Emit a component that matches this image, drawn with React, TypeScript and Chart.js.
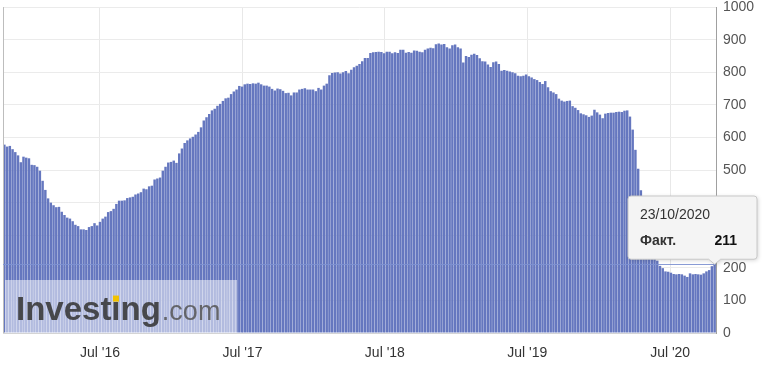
import React, { useEffect, useRef } from 'react';
import { Chart, registerables } from 'chart.js';

Chart.register(...registerables);

// Weekly US oil rig count (Baker Hughes), first week ending 30/10/2015
const startDate = '2015-10-30';
const rigs2015 = [578, 572, 574, 564, 555, 545, 524, 541, 538, 536];
const rigs2016 = [
  516, 515, 510, 498, 467, 439, 413, 400, 392, 386, 387, 372, 362, 354, 351, 343, 332, 328, 318, 318,
  316, 325, 328, 337, 330, 341, 351, 357, 371, 374, 381, 396, 406, 406, 407, 414, 416, 418, 425, 428,
  432, 443, 441, 450, 452, 471, 474, 477, 498, 510, 523, 525,
];
const rigs2017 = [
  529, 522, 551, 566, 583, 591, 597, 602, 609, 617, 631, 652, 662, 672, 683, 688, 697, 703, 712, 720,
  722, 733, 741, 747, 758, 756, 763, 765, 764, 766, 765, 768, 763, 759, 759, 756, 749, 744, 750, 748,
  743, 736, 737, 729, 738, 738, 747, 749, 751, 747, 747, 747,
];
const rigs2018 = [
  742, 752, 747, 759, 765, 791, 798, 799, 800, 796, 800, 804, 797, 808, 815, 820, 825, 834, 844, 844,
  859, 861, 862, 863, 862, 858, 863, 863, 858, 861, 859, 869, 869, 860, 862, 860, 867, 866, 863, 861,
  869, 873, 875, 874, 886, 888, 885, 887, 877, 873, 883, 885,
];
const rigs2019 = [
  877, 873, 830, 850, 847, 854, 857, 853, 843, 834, 833, 824, 816, 831, 833, 825, 805, 807, 805, 802,
  800, 797, 789, 788, 789, 793, 788, 784, 779, 776, 770, 764, 773, 754, 742, 738, 733, 719, 713, 710,
  712, 713, 696, 691, 684, 674, 671, 668, 663, 667, 685, 677,
];
const rigs2020 = [
  670, 659, 673, 675, 676, 676, 678, 679, 678, 682, 683, 664, 624, 562, 504, 438, 378, 325, 292, 258,
  237, 222, 206, 199, 189, 188, 185, 181, 180, 181, 180, 176, 172, 183, 180, 181, 180, 179, 183, 189,
  193, 205, 211,
];

const tickDates = ['2016-07-01', '2017-07-01', '2018-07-01', '2019-07-01', '2020-07-01'];
const tickLabels = ["Jul '16", "Jul '17", "Jul '18", "Jul '19", "Jul '20"];
const yMin = 0;
const yMax = 1000;
const yStep = 100;
const seriesName = 'Факт.';

const values: number[] = [...rigs2015, ...rigs2016, ...rigs2017, ...rigs2018, ...rigs2019, ...rigs2020];

const DAY = 86400000;
const startMs = Date.parse(startDate + 'T00:00:00Z');
const weekIndexOf = (iso: string) => (Date.parse(iso + 'T00:00:00Z') - startMs) / (7 * DAY);
const tickPositions = tickDates.map(weekIndexOf);

const pad2 = (n: number) => (n < 10 ? '0' + n : '' + n);
const lastIndex = values.length - 1;
const lastDate = new Date(startMs + lastIndex * 7 * DAY);
const lastDateLabel = `${pad2(lastDate.getUTCDate())}/${pad2(lastDate.getUTCMonth() + 1)}/${lastDate.getUTCFullYear()}`;

const FONT = '"Liberation Sans", Arial, Helvetica, sans-serif';

const overlayPlugin = {
  id: 'overlay',
  afterDatasetsDraw(chart: any) {
    const { ctx, chartArea: a, scales } = chart;
    const y = scales.y;
    ctx.save();

    // left frame line
    ctx.strokeStyle = '#bdbdbd';
    ctx.lineWidth = 1;
    ctx.beginPath();
    ctx.moveTo(a.left + 0.5, a.top);
    ctx.lineTo(a.left + 0.5, a.bottom);
    ctx.stroke();

    // watermark
    const wmTop = 280;
    ctx.fillStyle = 'rgba(255,255,255,0.5)';
    ctx.fillRect(a.left + 2, wmTop, 232, a.bottom - wmTop);
    const base = 320;
    const x0 = 16;
    const bigSize = 33;
    ctx.font = `bold ${bigSize}px ${FONT}`;
    ctx.textBaseline = 'alphabetic';
    ctx.textAlign = 'left';
    ctx.fillStyle = 'rgba(55,55,55,0.88)';
    ctx.fillText('Investing', x0, base);
    const wInv = ctx.measureText('Investing').width;
    const wPre = ctx.measureText('Invest').width;
    const wI = ctx.measureText('i').width;
    ctx.fillStyle = '#f2c200';
    const cx = x0 + wPre + wI / 2;
    ctx.fillRect(cx - 3, base - bigSize * 0.74, 6, 6);
    ctx.font = `27px ${FONT}`;
    ctx.fillStyle = 'rgba(85,85,85,0.85)';
    ctx.fillText('.com', x0 + wInv + 1, base);

    // crosshair at last value
    const py = Math.round(y.getPixelForValue(values[lastIndex])) + 0.5;
    ctx.strokeStyle = 'rgba(125,145,210,0.9)';
    ctx.lineWidth = 1;
    ctx.beginPath();
    ctx.moveTo(a.left, py);
    ctx.lineTo(a.right, py);
    ctx.stroke();
    ctx.restore();
  },
  afterDraw(chart: any) {
    const { ctx } = chart;
    const bar = chart.getDatasetMeta(0).data[lastIndex];
    const tipX = bar.x;
    const tipY = bar.y;
    const left = 628;
    const right = 757;
    const top = 196;
    const bottom = tipY - 5;
    const r = 3;
    ctx.save();
    ctx.shadowColor = 'rgba(0,0,0,0.18)';
    ctx.shadowBlur = 4;
    ctx.shadowOffsetX = 1;
    ctx.shadowOffsetY = 1;
    ctx.beginPath();
    ctx.moveTo(left + r, top);
    ctx.lineTo(right - r, top);
    ctx.quadraticCurveTo(right, top, right, top + r);
    ctx.lineTo(right, bottom - r);
    ctx.quadraticCurveTo(right, bottom, right - r, bottom);
    ctx.lineTo(tipX + 6, bottom);
    ctx.lineTo(tipX, tipY);
    ctx.lineTo(tipX - 6, bottom);
    ctx.lineTo(left + r, bottom);
    ctx.quadraticCurveTo(left, bottom, left, bottom - r);
    ctx.lineTo(left, top + r);
    ctx.quadraticCurveTo(left, top, left + r, top);
    ctx.closePath();
    ctx.fillStyle = '#f4f4f4';
    ctx.fill();
    ctx.shadowColor = 'transparent';
    ctx.strokeStyle = '#c8c8c8';
    ctx.lineWidth = 1;
    ctx.stroke();

    ctx.textBaseline = 'alphabetic';
    ctx.textAlign = 'left';
    ctx.fillStyle = '#333';
    ctx.font = `14px ${FONT}`;
    ctx.fillText(lastDateLabel, 640, 219);
    ctx.font = `bold 14px ${FONT}`;
    ctx.fillText(seriesName, 640, 245);
    ctx.textAlign = 'right';
    ctx.fillStyle = '#111';
    ctx.fillText(String(values[lastIndex]), 737, 245);
    ctx.restore();
  },
};

export default function App() {
  const canvasRef = useRef<HTMLCanvasElement | null>(null);

  useEffect(() => {
    if (!canvasRef.current) return;
    const chart = new Chart(canvasRef.current, {
      type: 'bar',
      data: {
        datasets: [
          {
            label: seriesName,
            data: values.map((v, i) => ({ x: i, y: v })),
            backgroundColor: '#6577bf',
            borderWidth: 0,
            barPercentage: 0.9,
            categoryPercentage: 1,
          },
        ],
      },
      options: {
        responsive: true,
        maintainAspectRatio: false,
        animation: false,
        events: [],
        layout: { padding: { top: 0, left: 3, right: 0, bottom: 0 } },
        plugins: { legend: { display: false }, tooltip: { enabled: false } },
        scales: {
          x: {
            type: 'linear',
            offset: false,
            min: -0.5,
            max: values.length - 0.5,
            afterBuildTicks: (scale: any) => {
              scale.ticks = tickPositions.map((v) => ({ value: v }));
            },
            afterFit: (scale: any) => {
              scale.height = 39;
            },
            grid: { color: '#e8e8e8', drawTicks: false, offset: false },
            border: { display: true, color: '#d4d4d4' },
            ticks: {
              autoSkip: false,
              maxRotation: 0,
              minRotation: 0,
              padding: 12,
              color: '#333',
              font: { size: 14, family: FONT },
              callback: (value: any) => {
                const k = tickPositions.findIndex((p) => Math.abs(p - Number(value)) < 1e-6);
                return k >= 0 ? tickLabels[k] : '';
              },
            },
          },
          y: {
            position: 'right',
            min: yMin,
            max: yMax,
            afterFit: (scale: any) => {
              scale.width = 46;
            },
            grid: { color: '#ebebeb', drawTicks: false },
            border: { display: true, color: '#a0a0a0' },
            ticks: {
              stepSize: yStep,
              padding: 7,
              color: '#555',
              font: { size: 14, family: FONT, lineHeight: 0.01 },
              callback: (value: any) => String(value),
            },
          },
        },
      },
      plugins: [overlayPlugin],
    } as any);
    return () => chart.destroy();
  }, []);

  return (
    <div style={{ position: 'fixed', left: 0, top: 0, width: 762, height: 372 }}>
      <canvas ref={canvasRef} />
    </div>
  );
}
